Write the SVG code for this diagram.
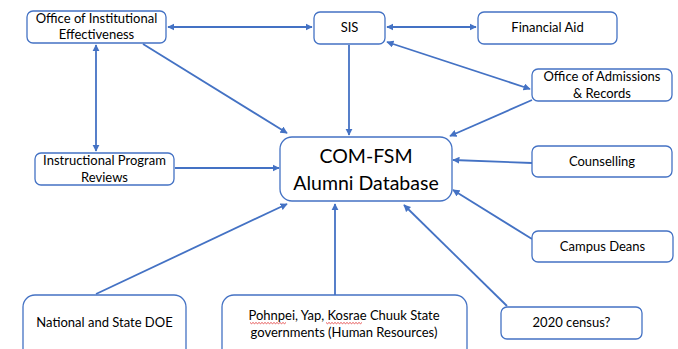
<svg xmlns="http://www.w3.org/2000/svg" width="678" height="349" viewBox="0 0 678 349">
<defs>
<style>
.box{fill:#fff;stroke:#4472C4;stroke-width:1.3}
.t{font-family:Lato,"Open Sans","Liberation Sans",sans-serif;font-size:13px;fill:#000;text-anchor:middle}
.big{font-family:Lato,"Open Sans","Liberation Sans",sans-serif;font-size:19.5px;fill:#000;text-anchor:middle}
.c{stroke:#4472C4;stroke-width:1.8;fill:none}
.sq{stroke:#e03030;stroke-width:0.8;fill:none}
</style>
<marker id="ah" viewBox="0 0 10 10" refX="9" refY="5" markerWidth="4" markerHeight="4" orient="auto-start-reverse" markerUnits="strokeWidth">
<path d="M0,0 L10,5 L0,10 z" fill="#4472C4"/>
</marker>
</defs>
<rect width="678" height="349" fill="#fff"/>
<g id="connectors">
<line class="c" x1="168" y1="27" x2="312" y2="27" marker-start="url(#ah)" marker-end="url(#ah)"/>
<line class="c" x1="387" y1="27" x2="476" y2="27" marker-start="url(#ah)" marker-end="url(#ah)"/>
<line class="c" x1="96" y1="45" x2="96" y2="151" marker-start="url(#ah)" marker-end="url(#ah)"/>
<line class="c" x1="143" y1="44" x2="287" y2="133" marker-end="url(#ah)"/>
<line class="c" x1="175" y1="168" x2="279" y2="168" marker-end="url(#ah)"/>
<line class="c" x1="349" y1="45" x2="349" y2="135" marker-end="url(#ah)"/>
<line class="c" x1="387" y1="42" x2="530" y2="89" marker-start="url(#ah)" marker-end="url(#ah)"/>
<line class="c" x1="532" y1="100" x2="450" y2="136" marker-end="url(#ah)"/>
<line class="c" x1="532" y1="163" x2="453" y2="160" marker-end="url(#ah)"/>
<line class="c" x1="532" y1="239" x2="453" y2="190" marker-end="url(#ah)"/>
<line class="c" x1="507" y1="306" x2="404" y2="205" marker-end="url(#ah)"/>
<line class="c" x1="335" y1="295" x2="335" y2="204" marker-end="url(#ah)"/>
<line class="c" x1="96" y1="294" x2="287" y2="204" marker-end="url(#ah)"/>
</g>
<g id="oie">
<rect class="box" x="27" y="11" width="139" height="32" rx="6"/>
<text class="t" x="96.5" y="23">Office of Institutional</text>
<text class="t" x="96.5" y="39">Effectiveness</text>
</g>
<g id="sis">
<rect class="box" x="314" y="12" width="71" height="32" rx="6"/>
<text class="t" x="349.5" y="32">SIS</text>
</g>
<g id="financial-aid">
<rect class="box" x="478" y="12" width="139" height="32" rx="6"/>
<text class="t" x="547.5" y="32">Financial Aid</text>
</g>
<g id="admissions">
<rect class="box" x="532" y="69" width="140" height="32" rx="6"/>
<text class="t" x="602" y="81">Office of Admissions</text>
<text class="t" x="602" y="98">&amp; Records</text>
</g>
<g id="ipr">
<rect class="box" x="35" y="153" width="139" height="32" rx="6"/>
<text class="t" x="104.5" y="165">Instructional Program</text>
<text class="t" x="104.5" y="182">Reviews</text>
</g>
<g id="central">
<rect class="box" x="280" y="137" width="172" height="64" rx="12"/>
<text class="big" x="366" y="163">COM-FSM</text>
<text class="big" x="366" y="190">Alumni Database</text>
</g>
<g id="counselling">
<rect class="box" x="532" y="146" width="140" height="31" rx="6"/>
<text class="t" x="602" y="166">Counselling</text>
</g>
<g id="campus-deans">
<rect class="box" x="532" y="231" width="141" height="31" rx="6"/>
<text class="t" x="602.5" y="251">Campus Deans</text>
</g>
<g id="census">
<rect class="box" x="501" y="307" width="141" height="32" rx="6"/>
<text class="t" x="571.5" y="327">2020 census?</text>
</g>
<g id="doe">
<rect class="box" x="23" y="295" width="163" height="70" rx="12"/>
<text class="t" x="104.5" y="327">National and State DOE</text>
</g>
<g id="governments">
<rect class="box" x="222" y="295" width="245" height="70" rx="12"/>
<text class="t" x="344" y="320">Pohnpei, Yap, Kosrae Chuuk State</text>
<text class="t" x="344" y="337">governments (Human Resources)</text>
<path class="sq" d="M250,322.5 l1.5,1.2 l1.5,-1.2 l1.5,1.2 l1.5,-1.2 l1.5,1.2 l1.5,-1.2 l1.5,1.2 l1.5,-1.2 l1.5,1.2 l1.5,-1.2 l1.5,1.2 l1.5,-1.2 l1.5,1.2 l1.5,-1.2 l1.5,1.2 l1.5,-1.2 l1.5,1.2 l1.5,-1.2 l1.5,1.2 l1.5,-1.2 l1.5,1.2 l1.5,-1.2 l1.5,1.2 l1.5,-1.2"/>
<path class="sq" d="M326,322.5 l1.5,1.2 l1.5,-1.2 l1.5,1.2 l1.5,-1.2 l1.5,1.2 l1.5,-1.2 l1.5,1.2 l1.5,-1.2 l1.5,1.2 l1.5,-1.2 l1.5,1.2 l1.5,-1.2 l1.5,1.2 l1.5,-1.2 l1.5,1.2 l1.5,-1.2 l1.5,1.2 l1.5,-1.2 l1.5,1.2 l1.5,-1.2 l1.5,1.2 l1.5,-1.2 l1.5,1.2 l1.5,-1.2"/>
</g>
</svg>
